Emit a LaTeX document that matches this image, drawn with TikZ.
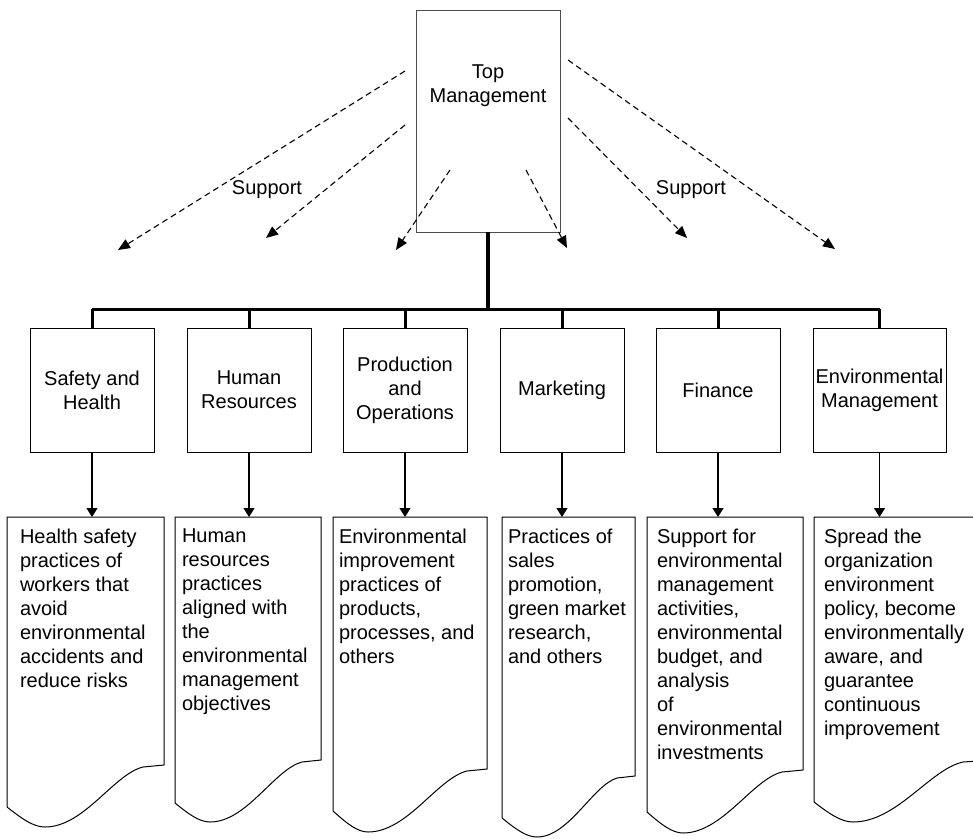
\documentclass[tikz,border=0pt]{standalone}
\usepackage{fontspec}
\setmainfont{Liberation Sans}
\usetikzlibrary{arrows.meta}

% Document sheet with a wavy bottom edge.
% #1 name of top coordinate, #2 left, #3 right, #4 left bottom y,
% #5 trough x, #6 trough y, #7 crest x, #8 crest y, #9 right bottom y
\newcommand\docsheet[9]{%
  \coordinate (#1) at ({(#2+#3)/2},517);
  \draw[sheetline] (#2,517) -- (#3,517) -- (#3,#9) -- (#7,#8)
    .. controls ({#7-0.3*(#7-#5)},{#8+0.12*(#6-#8)}) and ({#5+0.4*(#7-#5)},#6) .. (#5,#6)
    .. controls ({#5-0.3*(#5-#2)},#6) and ({#2+0.4*(#5-#2)},{#4+0.6*(#6-#4)}) .. (#2,#4)
    -- cycle;}

\begin{document}
\begin{tikzpicture}[x=1pt,y=-1pt,
  every node/.style={font=\fontsize{20}{24}\selectfont, inner sep=0pt, outer sep=0pt},
  deptbox/.style={draw=black, line width=0.9pt, minimum width=124pt, minimum height=124pt,
    align=center, anchor=north west},
  sheettext/.style={align=left, anchor=north west},
  sheetline/.style={draw=black, line width=1pt},
  bus/.style={line width=3pt},
  stem/.style={line width=4pt},
  flow/.style={line width=1.1pt, -{Triangle[length=9pt,width=11pt]}},
  supp/.style={line width=1.1pt, dash pattern=on 6pt off 4pt,
    -{Triangle[length=12pt,width=10pt]}}]

\clip (0,0) rectangle (973,838);
\fill[white] (0,0) rectangle (973,838);

% top box
\node[draw=black!70, line width=0.9pt, minimum width=144pt, minimum height=222pt,
  anchor=north west] (top) at (416,10) {};
\node[align=center] (toptext) at (488,86) {Top\\Management};

% departments
\node[deptbox] (b1) at (30,328) {Safety and\\Health};
\node[deptbox] (b2) at (187,328) {Human\\Resources};
\node[deptbox] (b3) at (343,328) {Production\\and\\Operations};
\node[deptbox] (b4) at (500,328) {Marketing};
\node[deptbox] (b5) at (656,328) {Finance};
\node[deptbox, minimum width=133pt] (b6) at (813,328) {Environmental\\Management};

% tree connectors
\coordinate (busy) at (488,309);
\draw[stem] (top.south) -- (top.south |- busy);
\draw[bus] (b1.north |- busy) -- (b6.north |- busy);
\foreach \b in {b1,b2,b3,b4,b5,b6}
  \draw[bus] (\b.north |- busy) -- (\b.north);

% practice sheets
\docsheet{d1}{7}{164}{807}{45}{827}{143}{767}{765}
\docsheet{d2}{175}{321}{803}{210}{822}{302}{762}{760}
\docsheet{d3}{333}{487}{811}{368}{832}{467}{771}{769}
\docsheet{d4}{502}{635}{818}{537}{837}{617}{778}{776}
\docsheet{d5}{647}{803}{812}{683}{833}{782}{772}{770}
\docsheet{d6}{814}{995}{802}{853}{822}{963}{762}{760}

\foreach \i in {1,...,6}
  \draw[flow] (b\i.south) -- (b\i.south |- d\i);

\node[sheettext] (t1) at (20,529) {Health safety\\practices of\\workers that\\avoid\\environmental\\accidents and\\reduce risks};
\node[sheettext] (t2) at (182,529) {Human\\resources\\practices\\aligned with\\the\\environmental\\management\\objectives};
\node[sheettext] (t3) at (339,529) {Environmental\\improvement\\practices of\\products,\\processes, and\\others};
\node[sheettext] (t4) at (508,529) {Practices of\\sales\\promotion,\\green market\\research,\\and others};
\node[sheettext] (t5) at (657,529) {Support for\\environmental\\management\\activities,\\environmental\\budget, and\\analysis\\of\\environmental\\investments};
\node[sheettext] (t6) at (824,529) {Spread the\\organization\\environment\\policy, become\\environmentally\\aware, and\\guarantee\\continuous\\improvement};

% support arrows
\coordinate (s1) at (405,71);  \coordinate (e1) at (118,250);
\coordinate (s2) at (405,125); \coordinate (e2) at (266,238);
\coordinate (s3) at (450,170); \coordinate (e3) at (396,250);
\coordinate (s4) at (526,170); \coordinate (e4) at (567,248);
\coordinate (s5) at (568,118); \coordinate (e5) at (687,238);
\coordinate (s6) at (568,60);  \coordinate (e6) at (835,249);
\foreach \i in {1,...,6}
  \draw[supp] (s\i) -- (e\i);

\node (sup1) at (267,190) {Support};
\node (sup2) at (691,190) {Support};

\end{tikzpicture}
\end{document}
